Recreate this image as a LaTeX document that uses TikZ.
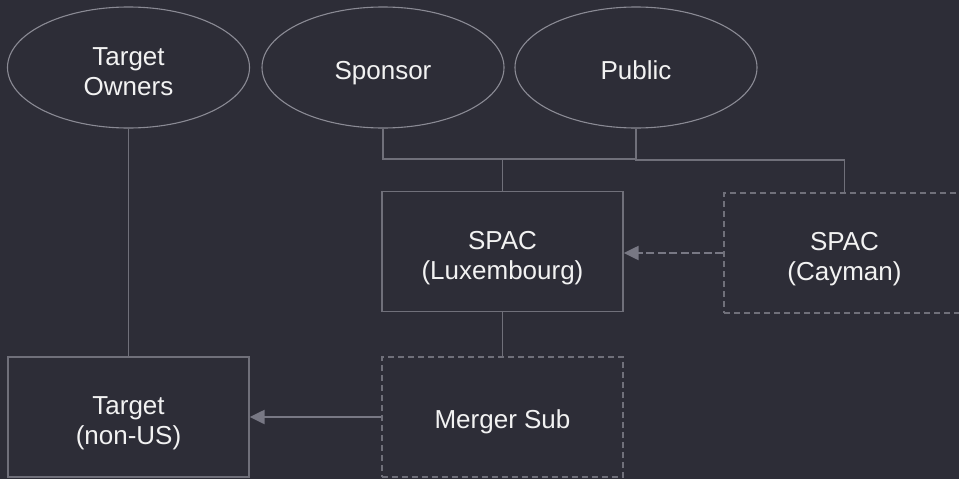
\documentclass[tikz,border=0pt]{standalone}
\usepackage{fontspec}
\setmainfont{Liberation Sans}
\usetikzlibrary{arrows.meta,shapes.geometric}
\definecolor{bgdark}{RGB}{45,45,55}
\definecolor{ellline}{RGB}{138,138,148}
\definecolor{boxline}{RGB}{112,112,122}
\definecolor{linkline}{RGB}{112,112,122}
\definecolor{arrowgrey}{RGB}{120,120,132}
\definecolor{txt}{RGB}{242,242,242}
\begin{document}
\begin{tikzpicture}[x=1pt,y=-1pt,
  party/.style={ellipse,draw=ellline,line width=1.1pt,minimum width=242pt,minimum height=121pt,
    inner sep=0pt,align=center,text=txt,text depth=0pt,font=\fontsize{26}{30}\selectfont},
  entity/.style={rectangle,draw=boxline,line width=1.3pt,minimum width=241pt,minimum height=120pt,
    inner sep=0pt,align=center,text=txt,text depth=0pt,font=\fontsize{26}{30}\selectfont},
  newentity/.style={entity,dashed,dash pattern=on 6pt off 4pt},
  oneline/.style={text height=23.6pt},
  twolines/.style={text height=55.6pt},
  link/.style={draw=linkline,line width=1.3pt},
  flow/.style={draw=arrowgrey,line width=2.2pt,-{Triangle[length=15pt,width=14pt]}},
  dashflow/.style={flow,dash pattern=on 8pt off 3.5pt}]
\useasboundingbox (0,0) rectangle (959,479);
\clip (0,0) rectangle (959,479);
\fill[bgdark] (0,0) rectangle (959,479);

% shareholders
\node[party,twolines] (owners) at (128.5,67.5) {Target\\Owners};
\node[party,oneline] (sponsor) at (383,67.5) {Sponsor};
\node[party,oneline] (public) at (636,67.5) {Public};

% entities
\node[entity,twolines] (spac) at (502.5,251.5) {SPAC\\(Luxembourg)};
\node[newentity,twolines] (cayman) at (844.5,253) {SPAC\\(Cayman)};
\node[entity,twolines] (target) at (128.5,417) {Target\\(non-US)};
\node[newentity,oneline] (merger) at (502.5,417) {Merger Sub};

% ownership lines
\coordinate (jl) at (383,159);
\coordinate (jr) at (636,159);
\draw[link] (sponsor.south) -- (jl) -- (jr) -- (public.south);
\draw[link] (spac.north) -- (spac.north |- jl);
\draw[link] (jr) -- (636,160) -- (cayman.north |- 0,160) -- (cayman.north);
\draw[link] (owners.south) -- (target.north);
\draw[link] (spac.south) -- (merger.north);

% transaction steps
\draw[dashflow] (cayman.west) -- (spac.east |- cayman.west);
\draw[flow] (merger.west) -- (target.east |- merger.west);
\end{tikzpicture}
\end{document}
